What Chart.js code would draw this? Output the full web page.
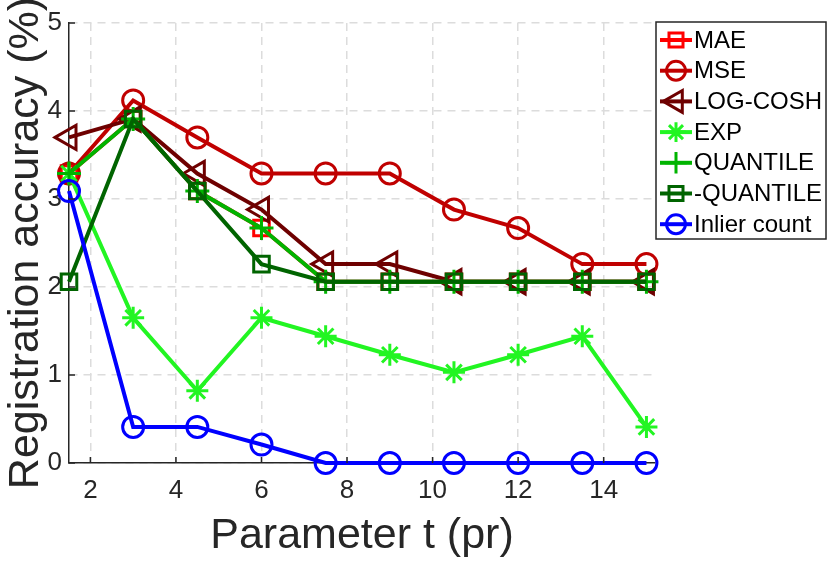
<!DOCTYPE html>
<html>
<head>
<meta charset="utf-8">
<script src="https://cdn.jsdelivr.net/npm/chart.js"></script>
<style>
  html, body { margin: 0; padding: 0; background: #fff; }
  #wrap { width: 831px; height: 561px; }
</style>
</head>
<body>
<div id="wrap"><canvas id="myChart" width="831" height="561"></canvas></div>
<script>
"use strict";

// parameter t values
const tValues = [1.5, 3, 4.5, 6, 7.5, 9, 10.5, 12, 13.5, 15];
const xTicks = [2, 4, 6, 8, 10, 12, 14];
const yTicks = [0, 1, 2, 3, 4, 5];

// registration accuracy (%)
const maeValues = [3.29, 3.91, 3.09, 2.67, 2.06, 2.06, 2.06, 2.06, 2.06, 2.06];
const mseValues = [3.29, 4.12, 3.70, 3.29, 3.29, 3.29, 2.88, 2.67, 2.26, 2.26];
const logCoshValues = [3.70, 3.91, 3.29, 2.88, 2.26, 2.26, 2.06, 2.06, 2.06, 2.06];
const expValues = [3.29, 1.65, 0.82, 1.65, 1.44, 1.23, 1.03, 1.23, 1.44, 0.41];
const quantileValues = [3.29, 3.91, 3.09, 2.67, 2.06, 2.06, 2.06, 2.06, 2.06, 2.06];
const negQuantileValues = [2.06, 3.91, 3.09, 2.26, 2.06, 2.06, 2.06, 2.06, 2.06, 2.06];
const inlierValues = [3.09, 0.41, 0.41, 0.21, 0, 0, 0, 0, 0, 0];

const seriesNames = ["MAE", "MSE", "LOG-COSH", "EXP", "QUANTILE", "-QUANTILE", "Inlier count"];
const seriesData = [maeValues, mseValues, logCoshValues, expValues, quantileValues, negQuantileValues, inlierValues];
const seriesColors = ["#ff0000", "#c00000", "#6e0000", "#22f522", "#00b400", "#006400", "#0000ff"];
const seriesMarkers = ["rect", "circle", "triangle", "star", "cross", "rect", "circle"];
const markerSizes = [11, 10.5, 14, 11, 12, 11, 10.5];
const markerRotation = [0, 0, -90, 0, 0, 0, 0];

const axisColor = "#262626";
const fontFamily = "'Liberation Sans', Arial, Helvetica, sans-serif";

function toPoints(values) {
  return values.map((v, i) => ({ x: tValues[i], y: v }));
}

const datasets = seriesNames.map((name, i) => ({
  label: name,
  data: toPoints(seriesData[i]),
  borderColor: seriesColors[i],
  borderWidth: 4,
  pointStyle: seriesMarkers[i],
  pointRadius: markerSizes[i],
  pointRotation: markerRotation[i],
  pointBorderWidth: 3,
  pointBorderColor: seriesColors[i],
  pointBackgroundColor: "rgba(0,0,0,0)",
  tension: 0,
  fill: false,
  order: 10 - i,
  clip: false,
}));

// small inward ticks like matlab
const innerTicks = {
  id: "innerTicks",
  afterDatasetsDraw(chart) {
    const ctx = chart.ctx;
    const xs = chart.scales.x;
    const ys = chart.scales.y;
    const area = chart.chartArea;
    ctx.save();
    ctx.strokeStyle = axisColor;
    ctx.lineWidth = 1.5;
    ctx.beginPath();
    for (const t of xTicks) {
      const px = xs.getPixelForValue(t);
      ctx.moveTo(px, area.bottom);
      ctx.lineTo(px, area.bottom - 6);
    }
    for (const t of yTicks) {
      const py = ys.getPixelForValue(t);
      ctx.moveTo(area.left, py);
      ctx.lineTo(area.left + 6, py);
    }
    ctx.stroke();
    ctx.restore();
  },
};

// legend box drawn over the plot (top right)
const boxLegend = {
  id: "boxLegend",
  afterDraw(chart) {
    const ctx = chart.ctx;
    const left = 656, top = 22, w = 170, h = 217;
    const rowH = 30.7, firstY = 40;
    ctx.save();
    ctx.fillStyle = "#fff";
    ctx.fillRect(left, top, w, h);
    ctx.strokeStyle = axisColor;
    ctx.lineWidth = 1.5;
    ctx.strokeRect(left, top, w, h);
    ctx.font = "24px " + fontFamily;
    ctx.textBaseline = "middle";
    ctx.textAlign = "left";
    seriesNames.forEach((name, i) => {
      const y = firstY + i * rowH;
      ctx.strokeStyle = seriesColors[i];
      ctx.lineWidth = 4;
      ctx.beginPath();
      ctx.moveTo(660, y);
      ctx.lineTo(692, y);
      ctx.stroke();
      ctx.lineWidth = 3;
      ctx.strokeStyle = seriesColors[i];
      ctx.fillStyle = "rgba(0,0,0,0)";
      Chart.helpers.drawPoint(ctx, {
        pointStyle: seriesMarkers[i],
        radius: markerSizes[i] * 0.9,
        rotation: markerRotation[i],
        borderWidth: 3,
      }, 676, y);
      ctx.fillStyle = "#000";
      ctx.fillText(name, 694, y + 1);
    });
    ctx.restore();
  },
};

new Chart("myChart", {
  type: "line",
  data: { datasets: datasets },
  options: {
    responsive: false,
    animation: false,
    devicePixelRatio: 1,
    layout: { padding: { top: 23, right: 176, bottom: 0, left: 0 } },
    plugins: {
      legend: { display: false },
      tooltip: { enabled: false },
    },
    scales: {
      x: {
        type: "linear",
        min: 1.5,
        max: 15.2,
        afterFit(scale) { scale.height = 98; },
        afterBuildTicks(scale) { scale.ticks = xTicks.map((v) => ({ value: v })); },
        ticks: { color: axisColor, font: { size: 26, family: fontFamily }, padding: 12 },
        grid: { color: "#dcdcdc", lineWidth: 1.5, drawTicks: false },
        border: { color: axisColor, width: 1.5, dash: [8, 6] },
        title: {
          display: true,
          text: "Parameter t (pr)",
          color: axisColor,
          font: { size: 43, family: fontFamily },
          padding: { top: 0, bottom: -1 },
        },
      },
      y: {
        type: "linear",
        min: 0,
        max: 5,
        afterFit(scale) { scale.width = 69; },
        afterBuildTicks(scale) { scale.ticks = yTicks.map((v) => ({ value: v })); },
        ticks: { color: axisColor, font: { size: 26, family: fontFamily }, padding: 7 },
        grid: { color: "#dcdcdc", lineWidth: 1.5, drawTicks: false },
        border: { color: axisColor, width: 1.5, dash: [8, 6] },
        title: {
          display: true,
          text: "Registration accuracy (%)",
          color: axisColor,
          font: { size: 43, family: fontFamily },
          padding: { top: 0, bottom: 0 },
        },
      },
    },
  },
  plugins: [innerTicks, boxLegend],
});
</script>
</body>
</html>
